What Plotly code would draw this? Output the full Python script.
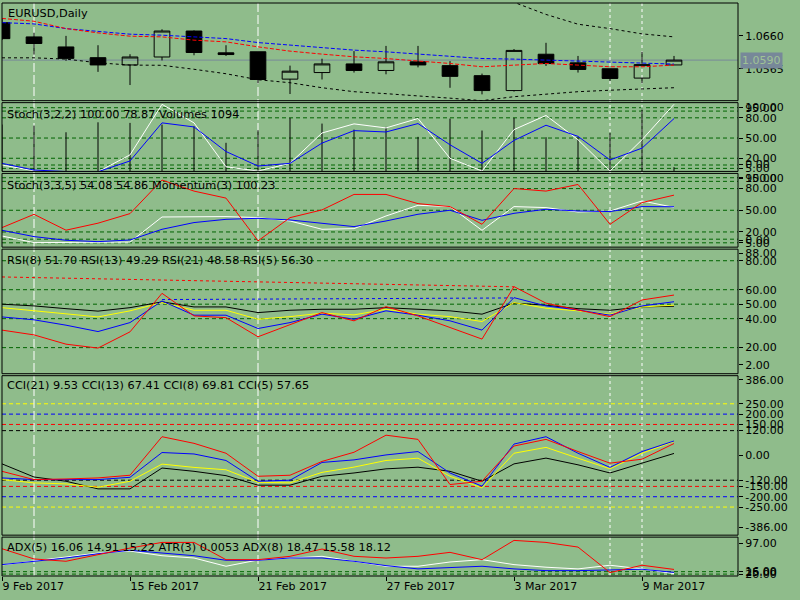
import plotly.graph_objects as go

# ---------------- data ----------------
bar_dates = ["2017-02-09", "2017-02-10", "2017-02-13", "2017-02-14", "2017-02-15", "2017-02-16",
             "2017-02-17", "2017-02-20", "2017-02-21", "2017-02-22", "2017-02-23", "2017-02-24",
             "2017-02-27", "2017-02-28", "2017-03-01", "2017-03-02", "2017-03-03", "2017-03-06",
             "2017-03-07", "2017-03-08", "2017-03-09", "2017-03-10"]
bar_index = list(range(len(bar_dates)))
date_tick_index = [0, 4, 8, 12, 16, 20]
date_tick_labels = ["9 Feb 2017", "15 Feb 2017", "21 Feb 2017", "27 Feb 2017", "3 Mar 2017", "9 Mar 2017"]

price_open = [1.0698, 1.0657, 1.0628, 1.0597, 1.0576, 1.0599, 1.0674, 1.0611, 1.0614, 1.0535, 1.0554,
              1.0579, 1.0560, 1.0585, 1.0574, 1.0545, 1.0502, 1.0607, 1.0582, 1.0565, 1.0538, 1.0576]
price_high = [1.0709, 1.0669, 1.0660, 1.0633, 1.0607, 1.0679, 1.0676, 1.0633, 1.0615, 1.0574, 1.0594,
              1.0616, 1.0631, 1.0631, 1.0587, 1.0551, 1.0622, 1.0640, 1.0602, 1.0565, 1.0614, 1.0602]
price_low = [1.0648, 1.0606, 1.0588, 1.0556, 1.0518, 1.0589, 1.0604, 1.0602, 1.0523, 1.0492, 1.0534,
             1.0554, 1.0549, 1.0569, 1.0510, 1.0491, 1.0499, 1.0573, 1.0554, 1.0530, 1.0523, 1.0576]
price_close = [1.0652, 1.0638, 1.0595, 1.0576, 1.0599, 1.0674, 1.0612, 1.0606, 1.0534, 1.0558, 1.0579,
               1.0560, 1.0585, 1.0576, 1.0543, 1.0502, 1.0618, 1.0580, 1.0563, 1.0537, 1.0577, 1.0590]
ma_blue = [1.06983, 1.06946, 1.06810, 1.06735, 1.06649, 1.06620, 1.06580, 1.06522, 1.06407, 1.06332, 1.06254,
           1.06188, 1.06139, 1.06073, 1.05995, 1.05946, 1.05929, 1.05900, 1.05851, 1.05822, 1.05802, 1.05785]
ma_red = [1.07104, 1.07023, 1.06810, 1.06686, 1.06591, 1.06571, 1.06476, 1.06427, 1.06283, 1.06159, 1.06073,
          1.05995, 1.05946, 1.05880, 1.05802, 1.05707, 1.05756, 1.05802, 1.05756, 1.05707, 1.05707, 1.05756]
band_upper = [1.0800, 1.0795, 1.0790, 1.0785, 1.0780, 1.0778, 1.0775, 1.0773, 1.0772, 1.0770, 1.0768,
              1.0766, 1.0764, 1.0762, 1.0760, 1.0758, 1.0757, 1.07219, 1.06937, 1.0681, 1.06658, 1.06571]
band_lower = [1.05966, 1.05966, 1.05929, 1.05822, 1.05756, 1.05750, 1.05635, 1.05506, 1.05333, 1.05246, 1.05102,
              1.04987, 1.04930, 1.04872, 1.04800, 1.04728, 1.04843, 1.04915, 1.04987, 1.05030, 1.05074, 1.05102]
last_price = 1.0590
price_ticks = [1.0660, 1.0565]
price_tick_text = ["1.0660", "1.0565"]

stoch1_main = [10, 1.4, 0, 0, 25, 100, 72.5, 7.4, 1, 12.5, 57.5, 71, 65, 79, 20, 1, 62.5, 83.5, 47.5, 1, 47.5, 100]
stoch1_signal = [12.5, 2.5, 0.3, 0, 16, 72.5, 66.5, 30, 8.5, 12.5, 42.5, 61, 59, 71.5, 40, 12.5, 46.5, 69, 52.5,
                 17.5, 35, 78.87]
volumes = [12000, 11730, 10020, 12570, 12420, 11990, 11550, 7320, 10530, 13690, 12240, 10710, 11400, 8850,
           13520, 10460, 13690, 8750, 8750, 9870, 15810, 1094]

stoch2_main = [14.4, 5.3, 5.5, 5.5, 6, 40.7, 41.3, 41.3, 39.9, 35.2, 23.7, 24.6, 42.1, 56.9, 55.1, 22.3, 55.1,
               53.7, 47.6, 49, 62.9, 54.08]
stoch2_signal = [22.3, 13.6, 8.5, 6.6, 8.9, 23.7, 33, 37.5, 38.9, 36.6, 32, 27.4, 35.2, 44.5, 50, 36.1, 45.8,
                 51.4, 49, 48.2, 55.1, 54.86]
momentum = [99.35, 99.71, 99.28, 99.47, 99.73, 100.64, 100.34, 100.15, 98.99, 99.62, 99.83, 100.25, 100.25,
            100.0, 99.92, 99.44, 100.41, 100.34, 100.52, 99.44, 100.03, 100.23]

rsi21 = [50.0, 48.8, 46.9, 45.2, 47.6, 51.6, 48.1, 48.1, 44.2, 45.8, 46.5, 46.5, 47.6, 46.5, 45.4, 43.1, 50.7,
         49.3, 46.9, 45.8, 48.1, 48.58]
rsi13 = [47.6, 45.4, 43.1, 41.2, 45.4, 51.1, 45.8, 45.8, 39.6, 41.4, 43.8, 42.6, 46.5, 43.1, 41.4, 38.0, 51.1,
         47.2, 45.4, 43.1, 48.1, 49.29]
rsi8 = [41.2, 39.2, 35.5, 31.1, 37.3, 52.2, 42.4, 42.4, 33.2, 37.3, 43.1, 39.6, 45.4, 42.4, 38.5, 32.1, 54.5,
        48.8, 46.0, 42.4, 48.8, 51.70]
rsi5 = [32.1, 28.8, 22.4, 19.7, 30.9, 57.5, 41.9, 40.7, 27.5, 35.7, 44.2, 38.5, 48.3, 41.9, 33.9, 25.9, 62.1,
        50.7, 46.0, 41.4, 52.9, 56.30]
rsi_red_trend_idx = [0, 16]
rsi_red_trend_val = [68.8, 62.0]
rsi_blue_trend_idx = [5, 16]
rsi_blue_trend_val = [53.2, 54.3]

cci21 = [-41, -104.5, -125, -162, -162, -61, -77, -98, -144, -144, -101, -85, -65, -57, -77, -125, -41, -13,
         -45.5, -85, -37.4, 9.53]
cci13 = [-117, -133, -138, -154, -125, -42, -58, -69.5, -130, -133, -82, -56.6, -24.5, -13.4, -101, -157, 10.5,
         39, -13.4, -64.7, 10.5, 67.41]
cci8 = [-109, -117, -117, -117, -106, 14, 7, -24.5, -125, -120, -34, -21.6, 2.4, 18.7, -85, -149, 55, 90.6,
        10.5, -58, 18.7, 69.81]
cci5 = [-77, -117, -114, -109, -96, 90.6, 58.5, 10.5, -101, -96, -29, 15.3, 98, 77.7, -141, -125, 45.5, 77.7,
        18.7, -37.4, -18.2, 57.65]

adx_red = [72.8, 51.5, 46.7, 60.4, 74.2, 86.0, 86.0, 50.0, 50.0, 57.0, 72.2, 57.0, 53.5, 57.0, 65.3, 50.0, 90.2,
           86.0, 76.3, 23.1, 38.4, 29.7]
adx_white = [39, 47.3, 55.6, 63.9, 68, 58.3, 53.5, 36.3, 49.4, 53.5, 57.0, 46.7, 36.3, 36.3, 45.2, 50.0, 39.7,
             34.3, 30.8, 38.4, 30.8, 21.0]
adx_blue = [39.7, 46.7, 53.5, 62.4, 69.5, 63.9, 58.3, 48.8, 48.8, 53.5, 53.5, 46.7, 37.6, 30.8, 34.3, 36.3, 30.8,
            27.2, 27.2, 28.7, 30.1, 23.5]

stoch_levels = [95, 90, 80, 50, 20, 10, 5]
stoch_tick_vals = [95, 80, 50, 20, 5]
stoch_tick_text = ["95.00", "80.00", "50.00", "20.00", "5.00"]
rsi_levels = [80, 60, 50, 40, 20]
rsi_tick_text = ["80.00", "60.00", "50.00", "40.00", "20.00"]
cci_levels = [250, 200, 150, 120, -120, -150, -200, -250]
cci_level_colors = ["#ffff00", "#0000ff", "#ff0000", "#000000", "#000000", "#ff0000", "#0000ff", "#ffff00"]
cci_tick_vals = [250, 200, 150, 120, 0, -120, -150, -200, -250]
cci_tick_text = ["250.00", "200.00", "150.00", "120.00", "0.00", "-120.00", "-150.00", "-200.00", "-250.00"]
adx_levels = [25, 20]
adx_tick_text = ["25.00", "20.00"]

event_lines_long = [1, 8]
event_lines_short = [19, 20]

titles = ["EURUSD,Daily",
          "Stoch(3,2,2) 100.00 78.87 Volumes 1094",
          "Stoch(3,3,5) 54.08 54.86 Momentum(3) 100.23",
          "RSI(8) 51.70 RSI(13) 49.29 RSI(21) 48.58 RSI(5) 56.30",
          "CCI(21) 9.53 CCI(13) 67.41 CCI(8) 69.81 CCI(5) 57.65",
          "ADX(5) 16.06 14.91 15.22 ATR(3) 0.0053 ADX(8) 18.47 15.58 18.12"]

# ---------------- layout helpers ----------------
W, H = 800, 600
ML, MR, MT, MB = 2, 62, 1, 24
PW, PH = W - ML - MR, H - MT - MB
FONT = "DejaVu Sans"
BG = "rgb(143,188,139)"
GREEN = "rgb(0,100,0)"

panels = {1: (1, 99), 2: (101, 170), 3: (172, 246), 4: (248, 373), 5: (375, 535), 6: (537, 576)}


def ydom(p):
    top, bot = panels[p]
    return [1 - (bot - MT) / PH, 1 - (top - MT) / PH]


def xp(px):
    return (px - ML) / PW


def yp(py):
    return 1 - (py - MT) / PH


def inner_labels(p, rng, top_text, bot_text, top_off=5, bot_off=7):
    top, bot = panels[p]
    per = (rng[1] - rng[0]) / (bot - top)
    return [rng[1] - top_off * per, rng[0] + bot_off * per], [top_text, bot_text]


rng_main = [1.04728, 1.07550]
rng_st1 = [0.5, 102.5]
rng_st2 = [-1, 101]
rng_rsi = [2, 88]
rng_cci = [-386, 386]
rng_adx = [16, 97]
rng_vol = [0, 17600]
rng_mom = [98.82, 100.82]

fig = go.Figure()

# main price panel
fig.add_trace(go.Candlestick(x=bar_index, open=price_open, high=price_high, low=price_low, close=price_close,
                             increasing=dict(line=dict(color="black", width=1), fillcolor="rgba(0,0,0,0)"),
                             decreasing=dict(line=dict(color="black", width=1), fillcolor="black"),
                             whiskerwidth=0, xaxis="x", yaxis="y", hoverinfo="skip", showlegend=False))
for vals, col, dash in [(ma_blue, "#0000ff", "4px,2px"), (ma_red, "#ff0000", "4px,2px"),
                        (band_upper, "black", "3px,3px"), (band_lower, "black", "3px,3px")]:
    fig.add_trace(go.Scatter(x=bar_index, y=vals, mode="lines", line=dict(color=col, width=1, dash=dash),
                             xaxis="x", yaxis="y", showlegend=False, hoverinfo="skip"))

# stoch 1 + volumes
vx, vy = [], []
for i, v in zip(bar_index, volumes):
    vx += [i, i, None]
    vy += [0, v, None]
fig.add_trace(go.Scatter(x=vx, y=vy, mode="lines", line=dict(color="black", width=1), xaxis="x2", yaxis="y2",
                         showlegend=False, hoverinfo="skip"))
fig.add_trace(go.Scatter(x=bar_index, y=stoch1_main, mode="lines", line=dict(color="white", width=1),
                         xaxis="x2", yaxis="y7", showlegend=False, hoverinfo="skip"))
fig.add_trace(go.Scatter(x=bar_index, y=stoch1_signal, mode="lines", line=dict(color="#0000ff", width=1),
                         xaxis="x2", yaxis="y7", showlegend=False, hoverinfo="skip"))

# stoch 2 + momentum
fig.add_trace(go.Scatter(x=bar_index, y=stoch2_main, mode="lines", line=dict(color="white", width=1),
                         xaxis="x3", yaxis="y3", showlegend=False, hoverinfo="skip"))
fig.add_trace(go.Scatter(x=bar_index, y=stoch2_signal, mode="lines", line=dict(color="#0000ff", width=1),
                         xaxis="x3", yaxis="y3", showlegend=False, hoverinfo="skip"))
fig.add_trace(go.Scatter(x=bar_index, y=momentum, mode="lines", line=dict(color="#ff0000", width=1),
                         xaxis="x3", yaxis="y8", showlegend=False, hoverinfo="skip"))

# RSI
fig.add_trace(go.Scatter(x=rsi_red_trend_idx, y=rsi_red_trend_val, mode="lines",
                         line=dict(color="#ff0000", width=1, dash="3px,3px"), xaxis="x4", yaxis="y4",
                         showlegend=False, hoverinfo="skip"))
fig.add_trace(go.Scatter(x=rsi_blue_trend_idx, y=rsi_blue_trend_val, mode="lines",
                         line=dict(color="#0000ff", width=1, dash="3px,3px"), xaxis="x4", yaxis="y4",
                         showlegend=False, hoverinfo="skip"))
for vals, col in [(rsi21, "black"), (rsi13, "#ffff00"), (rsi8, "#0000ff"), (rsi5, "#ff0000")]:
    fig.add_trace(go.Scatter(x=bar_index, y=vals, mode="lines", line=dict(color=col, width=1),
                             xaxis="x4", yaxis="y4", showlegend=False, hoverinfo="skip"))

# CCI
for vals, col in [(cci21, "black"), (cci13, "#ffff00"), (cci8, "#0000ff"), (cci5, "#ff0000")]:
    fig.add_trace(go.Scatter(x=bar_index, y=vals, mode="lines", line=dict(color=col, width=1),
                             xaxis="x5", yaxis="y5", showlegend=False, hoverinfo="skip"))

# ADX
for vals, col in [(adx_white, "white"), (adx_blue, "#0000ff"), (adx_red, "#ff0000")]:
    fig.add_trace(go.Scatter(x=bar_index, y=vals, mode="lines", line=dict(color=col, width=1),
                             xaxis="x6", yaxis="y6", showlegend=False, hoverinfo="skip"))

# ---------------- axes ----------------
tickfont = dict(family=FONT, size=11, color="black")


def yax(p, rng, tv=None, tt=None, anchor=None, **kw):
    d = dict(domain=ydom(p), range=rng, side="right", anchor=anchor or ("x" if p == 1 else "x%d" % p),
             showgrid=False, zeroline=False, showline=False, fixedrange=True, tickfont=tickfont)
    if tv is not None:
        d.update(tickmode="array", tickvals=tv, ticktext=tt, ticks="outside", ticklen=4, tickwidth=1,
                 tickcolor="black")
    else:
        d.update(showticklabels=False, ticks="")
    d.update(kw)
    return d


lay = {}
for p in range(1, 7):
    name = "xaxis" if p == 1 else "xaxis%d" % p
    ax = dict(domain=[0, 1], range=[0, 23], anchor="y" if p == 1 else "y%d" % p, showgrid=False,
              zeroline=False, showline=False, fixedrange=True, showticklabels=False, ticks="")
    if p != 1:
        ax["matches"] = "x"
    else:
        ax["rangeslider"] = dict(visible=False)
    if p == 6:
        ax.update(showticklabels=True, tickmode="array", tickvals=date_tick_index, ticktext=date_tick_labels,
                  ticks="outside", ticklen=4, tickcolor="black", tickfont=tickfont,
                  ticklabelposition="outside right")
    lay[name] = ax

lay["yaxis"] = yax(1, rng_main, price_ticks, price_tick_text)
lay["yaxis2"] = yax(2, rng_vol)
tv, tt = inner_labels(2, rng_st1, "100.00", "0.00")
lay["yaxis7"] = yax(2, rng_st1, tv[:1] + stoch_tick_vals + tv[1:], tt[:1] + stoch_tick_text + tt[1:],
                    anchor="x2", overlaying="y2")
tv, tt = inner_labels(3, rng_st2, "100.00", "0.00")
lay["yaxis3"] = yax(3, rng_st2, tv[:1] + stoch_tick_vals + tv[1:], tt[:1] + stoch_tick_text + tt[1:])
lay["yaxis8"] = yax(3, rng_mom, anchor="x3", overlaying="y3")
tv, tt = inner_labels(4, rng_rsi, "88.00", "2.00", 4, 9)
lay["yaxis4"] = yax(4, rng_rsi, tv[:1] + rsi_levels + tv[1:], tt[:1] + rsi_tick_text + tt[1:])
tv, tt = inner_labels(5, rng_cci, "386.00", "-386.00", 4, 8)
lay["yaxis5"] = yax(5, rng_cci, tv[:1] + cci_tick_vals + tv[1:], tt[:1] + cci_tick_text + tt[1:])
tv, tt = inner_labels(6, rng_adx, "97.00", "16.00", 6, 5)
lay["yaxis6"] = yax(6, rng_adx, tv[:1] + adx_levels + tv[1:], tt[:1] + adx_tick_text + tt[1:])

# ---------------- shapes ----------------
shapes = []


def hlevel(p, yref, lv, col, dash="4px,3px"):
    xr = "x domain" if p == 1 else "x%d domain" % p
    shapes.append(dict(type="line", xref=xr, x0=0, x1=1, yref=yref, y0=lv, y1=lv,
                       line=dict(color=col, width=1, dash=dash), layer="below"))


hlevel(1, "y", last_price, "rgb(119,136,153)", "solid")
for lv in stoch_levels:
    hlevel(2, "y7", lv, GREEN)
    hlevel(3, "y3", lv, GREEN)
for lv in rsi_levels:
    hlevel(4, "y4", lv, GREEN)
for lv, col in zip(cci_levels, cci_level_colors):
    hlevel(5, "y5", lv, col)
for lv in adx_levels:
    hlevel(6, "y6", lv, GREEN)

for i in event_lines_long:
    shapes.append(dict(type="line", xref="x", x0=i, x1=i, yref="paper", y0=0, y1=1,
                       line=dict(color="white", width=1, dash="9px,3px"), layer="below"))
for i in event_lines_short:
    shapes.append(dict(type="line", xref="x", x0=i, x1=i, yref="paper", y0=0, y1=1,
                       line=dict(color="white", width=1, dash="3px,3px"), layer="below"))

for p in range(1, 7):
    d = ydom(p)
    shapes.append(dict(type="rect", xref="paper", yref="paper", x0=0, x1=1, y0=d[0], y1=d[1],
                       line=dict(color="black", width=1), fillcolor="rgba(0,0,0,0)", layer="above"))

# ---------------- annotations ----------------
annotations = []
title_pos = [(6, 12), (5, 113), (5, 184), (5, 259), (5, 385), (5, 547)]
for t, (x0, y0) in zip(titles, title_pos):
    annotations.append(dict(text=t, xref="paper", yref="paper", x=xp(x0), y=yp(y0), xanchor="left",
                            yanchor="middle", showarrow=False, font=dict(family=FONT, size=11.3, color="black")))
annotations.append(dict(text="%.4f" % last_price, xref="paper", yref="y", x=1, y=last_price, xanchor="left",
                        yanchor="middle", xshift=2, showarrow=False, bgcolor="rgb(119,136,153)",
                        borderpad=1, font=dict(family=FONT, size=11, color="rgb(160,195,150)")))

fig.update_layout(width=W, height=H, margin=dict(l=ML, r=MR, t=MT, b=MB, pad=0),
                  paper_bgcolor=BG, plot_bgcolor="rgba(0,0,0,0)", showlegend=False,
                  shapes=shapes, annotations=annotations, font=dict(family=FONT, size=11, color="black"),
                  **lay)

fig.write_html("out.html", config={"displayModeBar": False, "staticPlot": True},
               post_script="document.body.style.margin='0';document.body.style.overflow='hidden';"
                           "document.documentElement.style.overflow='hidden';")
